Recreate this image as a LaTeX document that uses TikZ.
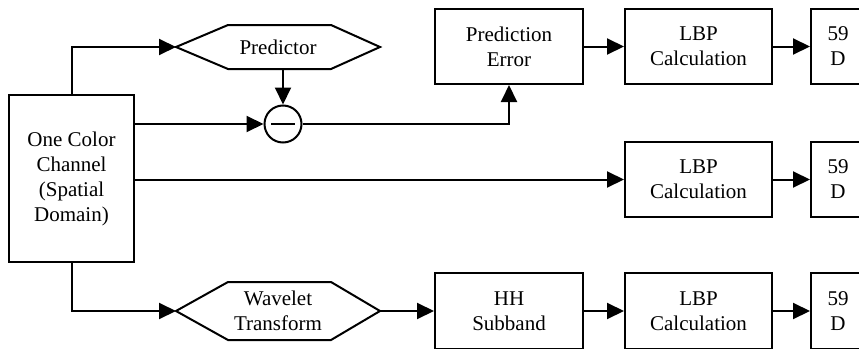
\documentclass[tikz,border=0pt]{standalone}
\usepackage{fontspec}
\setmainfont{Liberation Serif}
\usetikzlibrary{arrows.meta}
\begin{document}
\begin{tikzpicture}[x=1pt,y=-1pt,
  every node/.style={font=\fontsize{21}{25}\selectfont},
  blk/.style={draw,line width=2pt,minimum width=148pt,minimum height=75pt,align=center,inner sep=0pt},
  hexa/.style={draw,line width=2pt,line join=miter},
  arr/.style={line width=2pt,-{Triangle[length=17pt,width=16pt]}},
  ln/.style={line width=2pt}]
\useasboundingbox (0,0) rectangle (859,348);
\clip (0,0) rectangle (859,348);
% blocks
\node[blk,minimum width=125pt,minimum height=167pt] (main) at (71.5,178.5) {One Color\\Channel\\(Spatial\\Domain)};
\node[blk] (pe) at (509,46.5) {Prediction\\Error};
\node[blk,minimum width=147pt] (lbp1) at (698.5,46.5) {LBP\\Calculation};
\node[blk,minimum width=54pt] (d1) at (838,46.5) {59\\D};
\node[blk,minimum width=147pt] (lbp2) at (698.5,179.5) {LBP\\Calculation};
\node[blk,minimum width=54pt] (d2) at (838,179.5) {59\\D};
\node[blk,minimum height=76pt] (hh) at (509,311) {HH\\Subband};
\node[blk,minimum width=147pt,minimum height=76pt] (lbp3) at (698.5,311) {LBP\\Calculation};
\node[blk,minimum width=54pt,minimum height=76pt] (d3) at (838,311) {59\\D};
% minus circle
\node[draw,circle,line width=2pt,minimum size=37pt,inner sep=0pt] (minus) at (283,124) {};
\draw[ln] ([xshift=-12pt]minus.center) -- ([xshift=12pt]minus.center);
% predictor hexagon
\coordinate (predL) at (176,47);
\coordinate (predR) at (380,47);
\coordinate (predB) at (283,69);
\draw[hexa] (predL) -- (228,25) -- (331,25) -- (predR) -- (331,69) -- (228,69) -- cycle;
\node[align=center] (pred) at (278,47) {Predictor};
% wavelet hexagon
\coordinate (wavL) at (176,311);
\coordinate (wavR) at (380,311);
\draw[hexa] (wavL) -- (228,282) -- (331,282) -- (wavR) -- (331,340) -- (228,340) -- cycle;
\node[align=center] (wav) at (278,311) {Wavelet\\Transform};
% connectors
\draw[arr] (main.north) |- (predL);
\draw[arr] (predB) -- (minus.north);
\draw[arr] (main.east |- minus) -- (minus.west);
\draw[arr] (minus.east) -| (pe.south);
\draw[arr] (pe) -- (lbp1);
\draw[arr] (lbp1) -- (d1);
\draw[arr] (main.east |- lbp2) -- (lbp2.west);
\draw[arr] (lbp2) -- (d2);
\draw[arr] (main.south) |- (wavL);
\draw[arr] (wavR) -- (hh.west);
\draw[arr] (hh) -- (lbp3);
\draw[arr] (lbp3) -- (d3);
\end{tikzpicture}
\end{document}
